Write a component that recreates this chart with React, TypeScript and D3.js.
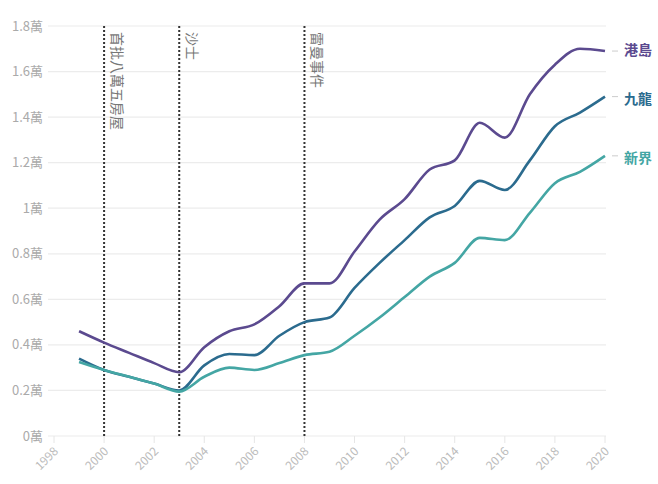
import React from "react";
import * as d3 from "d3";

const years = [1999,2000,2001,2002,2003,2004,2005,2006,2007,2008,2009,2010,2011,2012,2013,2014,2015,2016,2017,2018,2019,2020];
const hk = [0.46,0.41,0.365,0.32,0.28,0.39,0.46,0.49,0.57,0.67,0.67,0.81,0.95,1.04,1.17,1.21,1.375,1.31,1.50,1.63,1.70,1.69];
const kln = [0.34,0.29,0.26,0.23,0.20,0.31,0.36,0.355,0.44,0.50,0.52,0.65,0.76,0.86,0.96,1.01,1.12,1.08,1.21,1.36,1.42,1.49];
const nt = [0.325,0.29,0.26,0.23,0.195,0.26,0.30,0.29,0.32,0.355,0.37,0.44,0.52,0.61,0.70,0.76,0.87,0.86,0.98,1.11,1.16,1.23];
const seriesNames = ["港島","九龍","新界"];
const colors = ["#5b4a8f","#2b6b8e","#44a6a4"];
const yTicks = [0,0.2,0.4,0.6,0.8,1,1.2,1.4,1.6,1.8];
const xTicks = [1998,2000,2002,2004,2006,2008,2010,2012,2014,2016,2018,2020];
const events = [{year:2000,label:"首批八萬五房屋"},{year:2003,label:"沙士"},{year:2008,label:"雷曼事件"}];

export default function App() {
  const x = d3.scaleLinear().domain([1998,2020]).range([54,605]);
  const y = d3.scaleLinear().domain([0,1.8]).range([436,26]);
  const line = d3.line<number>().x((_, i) => x(years[i])).y(d => y(d)).curve(d3.curveMonotoneX);
  const data = [hk, kln, nt];
  const font = "'Noto Sans CJK TC','Noto Sans',sans-serif";
  return (
    <svg width={658} height={484} style={{position:"absolute",left:0,top:0,background:"#fff"}} fontFamily={font}>
      {yTicks.map(t => (
        <g key={t}>
          <line x1={48} x2={606} y1={y(t)} y2={y(t)} stroke="#ececec" strokeWidth={1.2}/>
          <text x={43} y={y(t)} dy="0.35em" textAnchor="end" fontSize={13} fill="#aaa">{`${t}萬`}</text>
        </g>
      ))}
      {xTicks.map(t => (
        <g key={t}>
          <line x1={x(t)} x2={x(t)} y1={436} y2={443} stroke="#e6e6e6"/>
          <text transform={`translate(${x(t)+5},${452}) rotate(-45)`} textAnchor="end" fontSize={12} fill="#bbb">{t}</text>
        </g>
      ))}
      {events.map(e => (
        <g key={e.year}>
          <line x1={x(e.year)} x2={x(e.year)} y1={26} y2={436} stroke="#333" strokeWidth={2} strokeDasharray="2,2"/>
          <text transform={`translate(${x(e.year)+4},${32}) rotate(90)`} dominantBaseline="text-after-edge" fontSize={14} fill="#777">{e.label}</text>
        </g>
      ))}
      {data.map((d, i) => (
        <path key={i} d={line(d) || ""} fill="none" stroke={colors[i]} strokeWidth={2.6}/>
      ))}
      {data.map((d, i) => (
        <g key={"l"+i}>
          <line x1={612} x2={618} y1={y(d[d.length-1])} y2={y(d[d.length-1])} stroke="#ccc"/>
          <text x={624} y={[50,99,158][i]} dy="0.35em" fontSize={14} fontWeight="bold" fill={colors[i]}>{seriesNames[i]}</text>
        </g>
      ))}
    </svg>
  );
}
